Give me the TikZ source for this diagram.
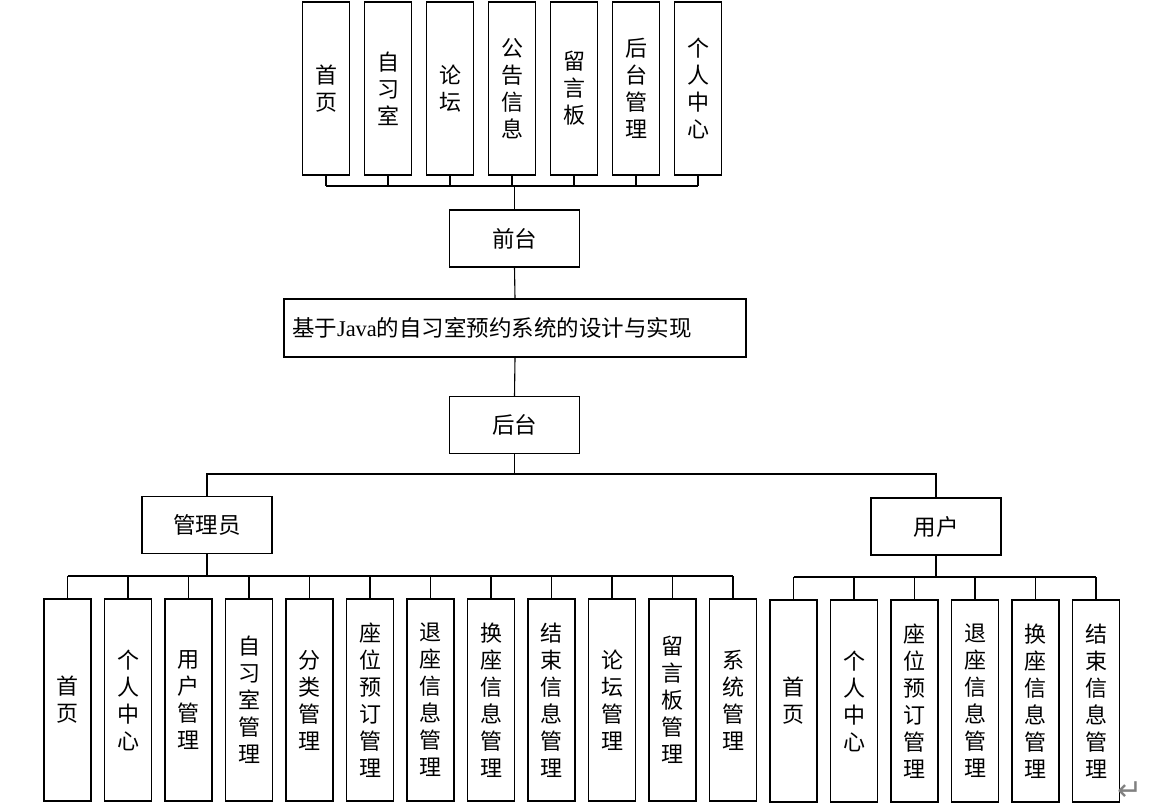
\documentclass[tikz,border=0pt]{standalone}
\usepackage{fontspec}
\setmainfont{Noto Sans CJK SC}
\newfontfamily\latinfont{Liberation Serif}
\newfontfamily\symfont{DejaVu Sans}

\begin{document}
\begin{tikzpicture}[x=1pt,y=-1pt,line width=1.1pt,
    box/.style={draw,inner sep=0pt,minimum width=130pt,minimum height=57pt,
      font=\fontsize{22.5pt}{27pt}\selectfont},
    vbox/.style={draw,inner sep=0pt,minimum width=47pt,align=center,
      font=\fontsize{22pt}{27pt}\selectfont},
    stem/.style={line width=1.6pt}]
      \useasboundingbox (0,0) rectangle (1166,807) ;
      % front end modules
      \foreach \lab [count=\i] in {{首\\页},{自\\习\\室},{论\\坛},{公\\告\\信\\息},%
        {留\\言\\板},{后\\台\\管\\理},{个\\人\\中\\心}}
        \node[vbox,minimum height=173pt] (t\i) at ({326+62*(\i-1)},88.5) {\lab} ;
      \node[box] (front) at (514.5,238.5) {前台} ;
      \coordinate (fbus) at (0,186) ;
      \foreach \i in {1,...,7}
        \draw (t\i.south) -- (t\i.south |- fbus) ;
      \draw (t1.south |- fbus) -- (t7.south |- fbus) ;
      \draw[stem] (front.north) -- (front.north |- fbus) ;
      % system title
      \node[draw,inner xsep=8pt,inner ysep=0pt,text width=446pt,align=left,%
        minimum height=58pt,font=\fontsize{22.5pt}{27pt}\selectfont] %
        (sys) at (515,328) {基于{\latinfont Java}的自习室预约系统的设计与实现} ;
      \draw (front.south) -- (sys.north) ;
      \node[box] (back) at (514.5,425) {后台} ;
      \draw (sys.south) -- (back.north) ;
      % roles
      \node[box] (admin) at (207,525) {管理员} ;
      \node[box] (user) at (936,526.5) {用户} ;
      \coordinate (rbus) at (0,474) ;
      \draw (back.south) -- (back.south |- rbus) ;
      \draw (admin.north) |- (back.south |- rbus) -| (user.north) ;
      % admin modules
      \foreach \lab [count=\i] in {{首\\页},{个\\人\\中\\心},{用\\户\\管\\理},%
        {自\\习\\室\\管\\理},{分\\类\\管\\理},{座\\位\\预\\订\\管\\理},%
        {退\\座\\信\\息\\管\\理},{换\\座\\信\\息\\管\\理},{结\\束\\信\\息\\管\\理},%
        {论\\坛\\管\\理},{留\\言\\板\\管\\理},{系\\统\\管\\理}}
        \node[vbox,minimum height=202pt] (a\i) at ({67.5+60.5*(\i-1)},700) {\lab} ;
      \coordinate (abus) at (0,576) ;
      \foreach \i in {1,...,12}
        \draw (a\i.north) -- (a\i.north |- abus) ;
      \draw (a1.north |- abus) -- (a12.north |- abus) ;
      \draw[stem] (admin.south) -- (admin.south |- abus) ;
      % user modules
      \foreach \lab [count=\i] in {{首\\页},{个\\人\\中\\心},{座\\位\\预\\订\\管\\理},%
        {退\\座\\信\\息\\管\\理},{换\\座\\信\\息\\管\\理},{结\\束\\信\\息\\管\\理}}
        \node[vbox,minimum height=202pt] (u\i) at ({793.5+60.5*(\i-1)},701) {\lab} ;
      \coordinate (ubus) at (0,577) ;
      \foreach \i in {1,...,6}
        \draw (u\i.north) -- (u\i.north |- ubus) ;
      \draw (u1.north |- ubus) -- (u6.north |- ubus) ;
      \draw[stem] (user.south) -- (user.south |- ubus) ;
      \node[text=gray,inner sep=0pt,font=\symfont\fontsize{30pt}{30pt}\selectfont] %
        (ret) at (1130,791) {↵} ;
\end{tikzpicture}
\end{document}
